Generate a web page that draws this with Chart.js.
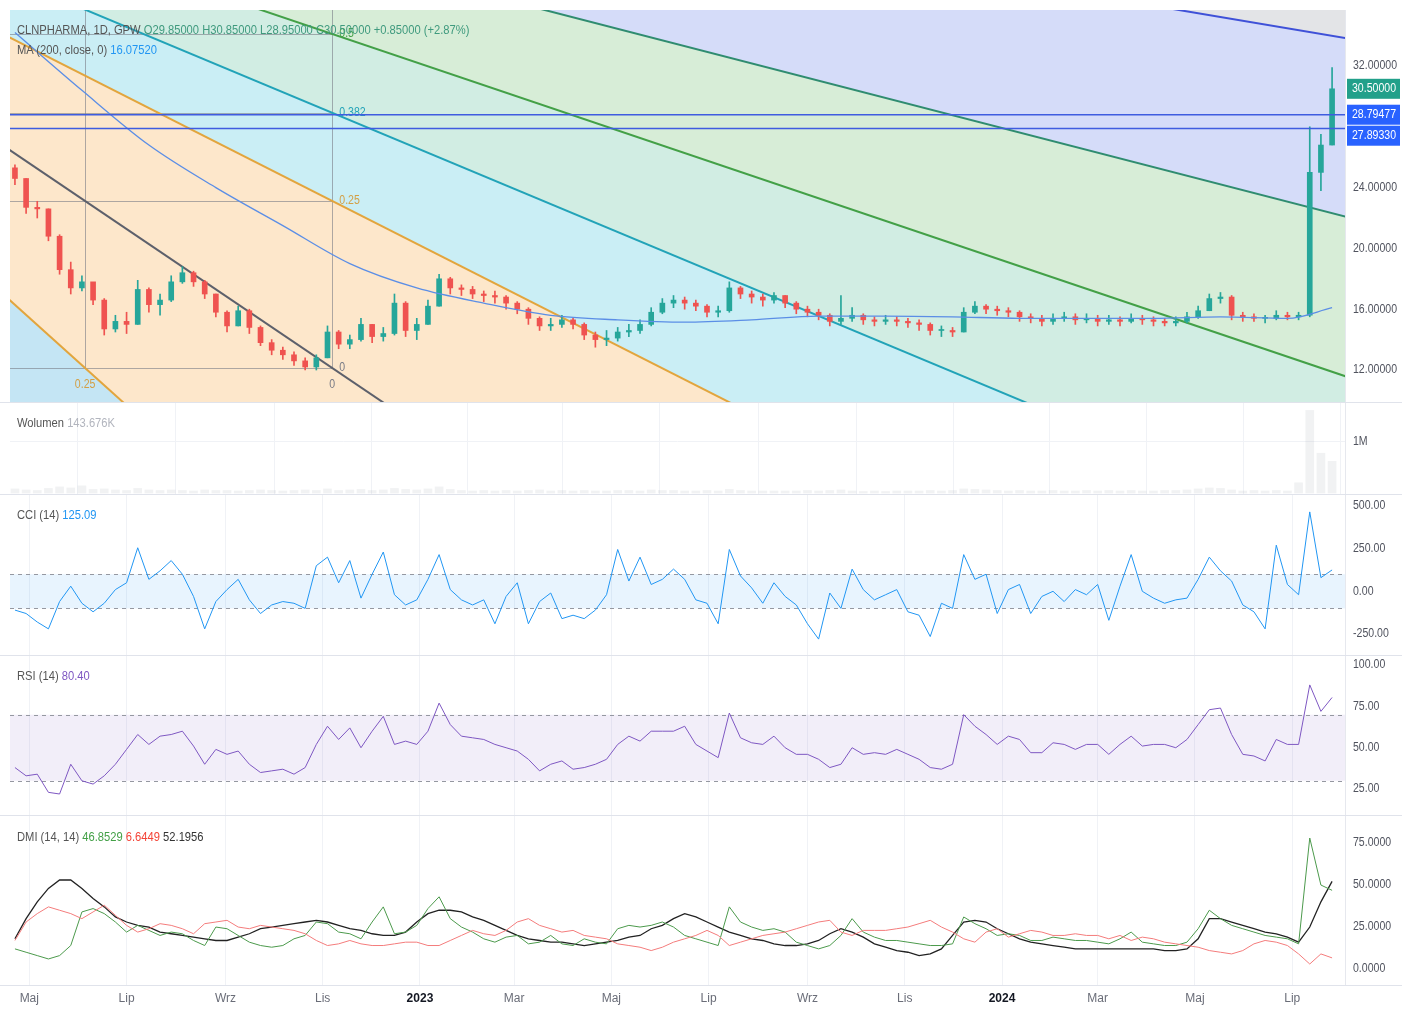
<!DOCTYPE html>
<html>
<head>
<meta charset="utf-8">
<script src="https://cdn.jsdelivr.net/npm/chart.js@4.4.1/dist/chart.umd.min.js"></script>
<style>
  body { margin: 0; background: #fff; }
  #wrap { position: relative; width: 1402px; height: 1012px; overflow: hidden; background: #fff;
          font-family: "Liberation Sans", Arial, sans-serif; }
  canvas { position: absolute; left: 0; }
  .sep { position: absolute; left: 0; width: 1402px; height: 1px; background: #e0e3eb; }
  .vsep { position: absolute; left: 1345px; top: 10px; width: 1px; height: 975px; background: #e6e8ee; }
  .legend { position: absolute; left: 17px; font-size: 13px; color: #555; white-space: nowrap;
            transform: scaleX(0.86); transform-origin: 0 0; }
</style>
</head>
<body>
<div id="wrap">
  <canvas id="main" width="1402" height="392" style="top:10px"></canvas>
  <canvas id="vol" width="1402" height="93" style="top:402px"></canvas>
  <canvas id="cci" width="1402" height="160" style="top:495px"></canvas>
  <canvas id="rsi" width="1402" height="160" style="top:655px"></canvas>
  <canvas id="dmi" width="1402" height="197" style="top:815px"></canvas>
  <div class="vsep"></div>
  <div class="sep" style="top:402px"></div>
  <div class="sep" style="top:494px"></div>
  <div class="sep" style="top:655px"></div>
  <div class="sep" style="top:815px"></div>
  <div class="sep" style="top:985px"></div>
  <div class="legend" style="top:22px">CLNPHARMA, 1D, GPW <span style="color:#3f9a7e">O29.85000 H30.85000 L28.95000 C30.50000 +0.85000 (+2.87%)</span></div>
  <div class="legend" style="top:42px">MA (200, close, 0) <span style="color:#2196f3">16.07520</span></div>
  <div class="legend" style="top:415px">Wolumen <span style="color:#b2b5be">143.676K</span></div>
  <div class="legend" style="top:507px">CCI (14) <span style="color:#2196f3">125.09</span></div>
  <div class="legend" style="top:668px">RSI (14) <span style="color:#7e57c2">80.40</span></div>
  <div class="legend" style="top:829px">DMI (14, 14) <span style="color:#43a047">46.8529</span> <span style="color:#f44336">6.6449</span> <span style="color:#333">52.1956</span></div>
</div>
<script>
// ======== Data (weekly bars) ========
const START_DATE = "2022-04-22"; // first weekly bar
const WEEK = 7;
const FIRST_OPEN = 25.3;

const CLOSE = [24.6,22.7,22.6,20.8,18.6,17.4,17.8,16.6,14.7,15.2,
  15.0,17.3,16.3,16.6,17.8,18.4,17.8,17.0,15.8,14.9,
  15.9,14.8,13.8,13.3,13.0,12.6,12.2,12.8,14.5,13.7,
  14.0,15.0,14.2,14.4,16.4,14.6,15.0,16.2,18.0,17.4,
  17.3,17.0,16.9,16.8,16.4,16.0,15.4,14.9,15.0,15.3,
  15.0,14.3,14.0,14.1,14.5,14.6,15.0,15.8,16.4,16.6,
  16.4,16.2,15.8,15.9,17.4,17.0,16.8,16.6,16.9,16.4,
  16.0,15.8,15.6,15.2,15.4,15.6,15.3,15.2,15.3,15.2,
  15.1,15.0,14.6,14.6,14.5,15.8,16.2,16.0,15.9,15.8,
  15.5,15.4,15.2,15.4,15.5,15.3,15.4,15.2,15.3,15.2,
  15.4,15.3,15.2,15.1,15.2,15.5,15.9,16.7,16.8,15.6,
  15.5,15.4,15.4,15.6,15.5,15.6,25.0,26.8,30.5];
const HIGH = [25.5,24.6,23.1,22.6,20.9,19.1,18.2,17.6,16.7,15.6,
  15.8,17.9,17.4,17.0,18.2,18.8,18.5,17.9,17.0,15.9,
  16.2,16.0,14.9,14.0,13.5,13.2,12.8,13.0,14.9,14.6,
  14.3,15.4,15.0,14.8,17.0,16.5,15.4,16.6,18.3,18.1,
  17.6,17.5,17.2,17.2,16.9,16.5,16.1,15.5,15.4,15.6,
  15.4,15.1,14.5,14.6,14.8,15.0,15.3,16.1,16.7,16.9,
  16.8,16.6,16.3,16.2,17.8,17.5,17.2,17.0,17.1,16.9,
  16.5,16.2,16.0,15.7,16.9,16.1,15.7,15.5,15.6,15.5,
  15.4,15.3,15.1,14.9,14.8,16.1,16.5,16.3,16.2,16.1,
  15.9,15.7,15.6,15.7,15.8,15.7,15.7,15.6,15.6,15.5,
  15.7,15.6,15.5,15.4,15.5,15.8,16.2,17.0,17.1,16.9,
  15.8,15.7,15.6,15.9,15.8,15.8,28.0,27.5,31.9];
const LOW = [24.2,22.3,22.0,20.5,18.3,17.0,17.2,16.3,14.3,14.5,
  14.4,15.0,15.8,15.6,16.5,17.7,17.5,16.7,15.5,14.5,
  14.9,14.4,13.6,13.0,12.7,12.3,12.0,12.0,12.8,13.4,
  13.4,13.9,13.8,13.9,14.3,14.2,14.0,15.0,16.2,17.0,
  16.9,16.7,16.5,16.4,16.0,15.7,15.0,14.6,14.6,14.8,
  14.7,14.0,13.5,13.6,13.9,14.2,14.4,14.9,15.7,16.1,
  16.0,15.9,15.5,15.5,15.8,16.7,16.4,16.2,16.4,16.1,
  15.7,15.5,15.3,14.9,15.0,15.2,15.0,14.9,15.0,14.9,
  14.8,14.6,14.3,14.2,14.2,14.5,15.7,15.7,15.6,15.5,
  15.2,15.1,14.9,15.0,15.2,15.0,15.1,14.9,15.0,14.9,
  15.1,15.0,14.9,14.9,14.9,15.1,15.4,15.9,16.4,15.3,
  15.2,15.2,15.1,15.3,15.3,15.3,15.5,23.8,26.8];

// MA200, read every 6th bar
const MA_IDX = [0,6,12,18,24,30,36,42,48,54,60,66,72,78,84,90,96,102,108,114,118];
const MA200 = [34.2,30.4,26.8,24.0,21.5,19.0,17.4,16.4,15.6,15.3,15.15,15.3,15.55,15.55,15.5,15.4,15.4,15.4,15.5,15.4,16.1];

// volume in millions
const VOLUME = [0.08,0.06,0.05,0.09,0.12,0.1,0.14,0.07,0.08,0.06,
  0.05,0.09,0.06,0.05,0.06,0.05,0.04,0.06,0.05,0.05,
  0.04,0.05,0.06,0.05,0.04,0.05,0.06,0.05,0.08,0.05,
  0.06,0.07,0.05,0.06,0.09,0.07,0.06,0.08,0.12,0.07,
  0.05,0.04,0.05,0.04,0.05,0.04,0.05,0.06,0.04,0.05,
  0.04,0.05,0.04,0.04,0.05,0.05,0.04,0.06,0.05,0.05,
  0.04,0.04,0.05,0.04,0.07,0.05,0.04,0.04,0.04,0.04,
  0.04,0.05,0.04,0.05,0.06,0.04,0.03,0.04,0.03,0.04,
  0.04,0.04,0.05,0.04,0.05,0.08,0.07,0.06,0.05,0.04,
  0.05,0.04,0.04,0.05,0.04,0.04,0.05,0.04,0.05,0.04,
  0.05,0.04,0.04,0.05,0.05,0.06,0.08,0.1,0.09,0.06,
  0.04,0.05,0.04,0.05,0.04,0.2,1.62,0.78,0.62];

const CCI = [-110,-130,-180,-220,-60,30,-70,-120,-70,10,
  50,255,70,120,180,100,-30,-220,-60,10,
  70,-50,-130,-80,-60,-70,-100,150,200,50,
  180,-40,100,230,-20,-80,-50,70,215,10,
  -50,-80,-50,-190,-30,50,-190,-60,-10,-160,
  -140,-160,-110,-20,245,60,200,40,70,130,
  70,-50,-70,-190,245,90,20,-70,50,-30,
  -80,-190,-280,-10,-100,130,10,-50,-20,10,
  -120,-140,-265,-70,-100,215,70,100,-130,10,
  40,-130,-30,0,-60,10,-20,40,-170,30,
  215,0,-40,-70,-50,-40,70,200,120,60,
  -80,-120,-220,270,40,-20,465,80,125.09];

const RSI = [38,33,34,23,22,40,30,28,33,40,
  49,58,52,57,58,60,51,40,49,46,
  48,40,35,36,37,34,38,52,63,55,
  62,50,60,69,52,54,52,60,77,64,
  57,56,55,52,50,48,43,36,40,42,
  37,38,40,43,52,57,54,60,60,60,
  63,52,48,44,71,56,53,52,57,50,
  46,46,43,38,40,50,46,47,46,49,
  46,43,38,37,40,70,63,58,52,57,
  55,47,47,53,52,49,52,52,46,52,
  57,51,52,52,50,55,64,73,74,58,
  46,45,42,55,52,52,88,72,80.4];

const DI_PLUS = [12,10,8,6,8,14,34,36,33,28,
  22,26,23,20,22,21,17,14,25,24,
  20,16,14,13,14,18,20,28,27,22,
  21,18,28,37,21,22,26,36,43,30,
  25,22,18,16,19,20,15,16,20,15,
  14,18,16,15,24,26,25,26,28,25,
  20,18,16,14,37,28,25,23,24,22,
  16,14,12,14,20,30,22,19,17,17,
  16,15,14,14,15,31,27,24,20,21,
  20,17,17,19,18,17,17,16,15,18,
  22,16,15,14,14,16,24,35,30,26,
  24,22,20,19,18,15,78,50,46.85];

const DI_MINUS = [17,28,33,37,35,33,30,34,38,32,
  26,22,24,27,26,24,21,27,28,29,
  25,24,26,25,24,23,21,17,14,15,
  17,15,14,14,15,16,16,14,14,17,
  20,23,21,20,23,28,30,26,24,22,
  23,20,19,18,15,14,13,11,13,16,
  18,20,23,20,14,16,18,20,21,22,
  24,26,28,29,22,20,23,23,23,24,
  25,27,29,25,22,18,16,22,24,19,
  21,23,22,20,20,21,20,20,18,20,
  17,19,18,16,15,14,13,11,10,9,
  11,15,17,16,14,9,3,9,6.64];

const ADX = [18,30,40,48,53,53,48,42,37,31,
  28,26,25,22,21,20,19,18,17,17,
  19,21,24,25,26,27,28,29,28,26,
  24,23,21,20,20,22,28,33,35,35,
  34,31,29,26,23,20,18,17,16,16,
  15,14,15,16,17,19,20,24,26,30,
  33,31,28,25,22,20,18,17,15,14,
  14,15,17,21,24,22,19,15,13,11,
  10,8,9,12,20,28,29,28,24,21,
  18,16,15,14,13,12,12,12,12,12,
  12,12,12,11,11,12,18,30,30,28,
  26,24,22,21,19,16,25,40,52.2];

const TICK_DATES = ["2022-05-01","2022-07-01","2022-09-01","2022-11-01","2023-01-01","2023-03-01",
  "2023-05-01","2023-07-01","2023-09-01","2023-11-01","2024-01-01","2024-03-01","2024-05-01","2024-07-01"];
const TICK_LABELS = ["Maj","Lip","Wrz","Lis","2023","Mar","Maj","Lip","Wrz","Lis","2024","Mar","Maj","Lip"];

const PRICE_TICKS = [12, 16, 20, 24, 32];
const VOL_TICKS = [1];
const CCI_TICKS = [-250, 0, 250, 500];
const RSI_TICKS = [25, 50, 75, 100];
const DMI_TICKS = [0, 25, 50, 75];

const HLINES = [28.79477, 27.8933];
const LAST_PRICE = 30.5;

// fib speed fan drawing (two anchor points) and its levels
const FAN_FROM = { date: "2021-02-25", price: 56.08 };
const FAN_TO = { date: "2022-11-07", price: 12.13 };
const FAN_RAYS = [["x", 0.382], ["x", 0.25], ["y", 0], ["y", 0.25], ["y", 0.382], ["y", 0.5], ["y", 0.618], ["y", 0.75], ["y", 1]];
const FAN_GRID_X = [0, 0.25];
const FAN_GRID_Y = [0, 0.25, 0.382, 0.5];

// ======== Styles ========
const FAN_FILLS = ["#c4e5f4", "#fde7cb", "#fde7cb", "#caeef5", "#d1ede3", "#d7edd7", "#d5dcf9", "#e3e4e7"];
const FAN_LINES = ["#1fa9c9", "#e2a53d", "#5d606b", "#e2a53d", "#22a3b8", "#43a047", "#2f8c70", "#3f51d8", "#787b86"];
const LEVEL_COLORS = { "0": "#787b86", "0.25": "#d39f45", "0.382": "#22a3b8", "0.5": "#43a047" };
const UP = "#26a69a", DOWN = "#ef5350";
const AXIS_FONT = '12px "Liberation Sans", Arial, sans-serif';
const TEXT_SQUEEZE = 0.88;
const X_VIEW = { min: -257.1, max: 580.1 };

// ======== Helpers ========
function dayOf(s) {
  return (Date.parse(s + "T00:00:00Z") - Date.parse("2023-01-01T00:00:00Z")) / 864e5;
}
const START = dayOf(START_DATE);
const XS = CLOSE.map((_, i) => START + WEEK * i);
const OPEN = CLOSE.map((c, i) => (i ? CLOSE[i - 1] : FIRST_OPEN));
const candleColor = CLOSE.map((c, i) => (c >= OPEN[i] ? UP : DOWN));
const TICK_DAYS = TICK_DATES.map(dayOf);

// condensed canvas text (the chart font is a narrow one)
function squeezedText(ctx, text, x, y, align) {
  ctx.save();
  ctx.translate(x, y);
  ctx.scale(TEXT_SQUEEZE, 1);
  ctx.textAlign = align || "left";
  ctx.fillText(text, 0, 0);
  ctx.restore();
}

function xAxis(showLabels) {
  return {
    type: "linear", min: X_VIEW.min, max: X_VIEW.max, offset: false,
    display: true,
    afterBuildTicks: (s) => { s.ticks = TICK_DAYS.map((v) => ({ value: v })); },
    afterFit: (s) => { s.height = showLabels ? 27 : 0; },
    grid: { color: "#f0f2f6", drawTicks: false },
    border: { display: false },
    ticks: {
      display: showLabels, padding: 6, maxRotation: 0, autoSkip: false,
      callback: (v, i) => TICK_LABELS[i],
      color: (c) => (/^\d{4}$/.test(TICK_LABELS[c.index]) ? "#131722" : "#6a6d78"),
      font: (c) => ({ family: '"Liberation Sans", Arial, sans-serif', size: 12,
                      weight: /^\d{4}$/.test(TICK_LABELS[c.index]) ? "bold" : "normal" }),
    },
  };
}

function rightAxisPlugin(ticks, fmt) {
  return {
    id: "rightAxis",
    afterDraw(chart) {
      const { ctx, scales: { y } } = chart;
      ctx.save();
      ctx.font = AXIS_FONT;
      ctx.fillStyle = "#50535e";
      ctx.textBaseline = "middle";
      ticks.forEach((t) => squeezedText(ctx, fmt(t), 1353, y.getPixelForValue(t)));
      ctx.restore();
    },
  };
}

function bandPlugin(hi, lo, fill) {
  return {
    id: "band",
    beforeDatasetsDraw(chart) {
      const { ctx, chartArea: a, scales: { y } } = chart;
      const yh = y.getPixelForValue(hi), yl = y.getPixelForValue(lo);
      ctx.save();
      ctx.fillStyle = fill;
      ctx.fillRect(a.left, yh, a.right - a.left, yl - yh);
      ctx.strokeStyle = "#9598a1";
      ctx.lineWidth = 1;
      ctx.setLineDash([4, 4]);
      [yh, yl].forEach((py) => {
        ctx.beginPath();
        ctx.moveTo(a.left, Math.round(py) + 0.5);
        ctx.lineTo(a.right, Math.round(py) + 0.5);
        ctx.stroke();
      });
      ctx.restore();
    },
  };
}

// ======== Fib fan + horizontal lines + price tags ========
const fanPlugin = {
  id: "fan",
  beforeDatasetsDraw(chart) {
    const { ctx, chartArea: a, scales: { x, y } } = chart;
    const ox = x.getPixelForValue(dayOf(FAN_FROM.date)), oy = y.getPixelForValue(FAN_FROM.price);
    const ex = x.getPixelForValue(dayOf(FAN_TO.date)), ey = y.getPixelForValue(FAN_TO.price);
    const far = FAN_RAYS.map(([k, l]) => {
      const px = k === "x" ? ex + l * (ox - ex) : ex;
      const py = k === "x" ? ey : ey + l * (oy - ey);
      return [ox + (px - ox) * 12, oy + (py - oy) * 12];
    });
    ctx.save();
    ctx.beginPath();
    ctx.rect(a.left, a.top, a.right - a.left, a.bottom - a.top);
    ctx.clip();
    for (let j = 0; j < far.length - 1; j++) {
      ctx.fillStyle = FAN_FILLS[j];
      ctx.beginPath();
      ctx.moveTo(ox, oy);
      ctx.lineTo(far[j][0], far[j][1]);
      ctx.lineTo(far[j + 1][0], far[j + 1][1]);
      ctx.closePath();
      ctx.fill();
    }
    // grid of the fan box
    ctx.strokeStyle = "rgba(120,123,134,0.6)";
    ctx.lineWidth = 1;
    FAN_GRID_X.forEach((l) => {
      const px = Math.round(ex + l * (ox - ex)) + 0.5;
      ctx.beginPath(); ctx.moveTo(px, oy); ctx.lineTo(px, ey); ctx.stroke();
    });
    FAN_GRID_Y.forEach((l) => {
      const py = Math.round(ey + l * (oy - ey)) + 0.5;
      ctx.beginPath(); ctx.moveTo(ox, py); ctx.lineTo(ex, py); ctx.stroke();
    });
    // rays
    ctx.lineWidth = 2;
    far.forEach((p, j) => {
      ctx.strokeStyle = FAN_LINES[j];
      ctx.beginPath(); ctx.moveTo(ox, oy); ctx.lineTo(p[0], p[1]); ctx.stroke();
    });
    // level labels
    ctx.font = AXIS_FONT;
    ctx.textBaseline = "middle";
    FAN_GRID_Y.forEach((l) => {
      ctx.fillStyle = LEVEL_COLORS[String(l)];
      squeezedText(ctx, String(l), ex + 7, ey + l * (oy - ey));
    });
    FAN_GRID_X.forEach((l) => {
      ctx.fillStyle = LEVEL_COLORS[String(l)];
      squeezedText(ctx, String(l), ex + l * (ox - ex), ey + 17, "center");
    });
    ctx.restore();
  },
  afterDatasetsDraw(chart) {
    const { ctx, chartArea: a, scales: { y } } = chart;
    ctx.save();
    ctx.strokeStyle = "#3f5ce0";
    ctx.lineWidth = 1.5;
    HLINES.forEach((v) => {
      const py = y.getPixelForValue(v);
      ctx.beginPath(); ctx.moveTo(a.left, py); ctx.lineTo(a.right, py); ctx.stroke();
    });
    ctx.restore();
  },
  afterDraw(chart) {
    const { ctx, scales: { y } } = chart;
    const tags = [[LAST_PRICE, "#22a08a"], ...HLINES.map((v) => [v, "#2962ff"])];
    let prev = -100;
    ctx.save();
    ctx.font = AXIS_FONT;
    ctx.textBaseline = "middle";
    tags.forEach(([v, col]) => {
      let py = y.getPixelForValue(v);
      if (py < prev + 21) py = prev + 21;
      prev = py;
      ctx.fillStyle = col;
      ctx.fillRect(1347, py - 10, 53, 20);
      ctx.fillStyle = "#fff";
      squeezedText(ctx, v.toFixed(5), 1352, py);
    });
    ctx.restore();
  },
};

const baseOptions = (yMin, yMax, showX, xGrid) => ({
  responsive: false,
  animation: false,
  layout: { padding: { left: 10, right: 57, top: 0, bottom: 0 } },
  plugins: { legend: { display: false }, tooltip: { enabled: false } },
  scales: {
    x: xGrid ? xAxis(showX) : { type: "linear", min: X_VIEW.min, max: X_VIEW.max, offset: false, display: false },
    y: { type: "linear", min: yMin, max: yMax, display: false },
  },
});

// ======== Price pane ========
new Chart(document.getElementById("main").getContext("2d"), {
  type: "bar",
  data: {
    datasets: [
      {
        data: XS.map((x, i) => ({ x, y: [LOW[i], HIGH[i]] })),
        backgroundColor: candleColor, barThickness: 1, grouped: false, order: 3,
      },
      {
        data: XS.map((x, i) => ({ x, y: [OPEN[i], CLOSE[i]] })),
        backgroundColor: candleColor, barThickness: 5, minBarLength: 1, grouped: false, order: 2,
      },
      {
        type: "line",
        data: MA_IDX.map((k, j) => ({ x: XS[k], y: MA200[j] })),
        borderColor: "#5b8ee6", borderWidth: 1.3, pointRadius: 0,
        cubicInterpolationMode: "monotone", order: 1,
      },
    ],
  },
  options: baseOptions(9.895, 35.684, false, false),
  plugins: [fanPlugin, rightAxisPlugin(PRICE_TICKS, (t) => t.toFixed(5))],
});

// ======== Volume pane ========
new Chart(document.getElementById("vol").getContext("2d"), {
  type: "bar",
  data: {
    datasets: [{
      data: XS.map((x, i) => ({ x, y: VOLUME[i] })),
      backgroundColor: "rgba(150,155,165,0.13)", barThickness: 8,
    }],
  },
  options: (() => {
    const o = baseOptions(-0.039, 1.784, false, true);
    o.scales.y = { type: "linear", min: -0.039, max: 1.784, display: true,
      afterBuildTicks: (s) => { s.ticks = VOL_TICKS.map((v) => ({ value: v })); },
      afterFit: (s) => { s.width = 0; },
      ticks: { display: false }, grid: { color: "#f0f2f6", drawTicks: false }, border: { display: false } };
    return o;
  })(),
  plugins: [rightAxisPlugin(VOL_TICKS, (t) => t + "M")],
});

// ======== Oscillator panes ========
function linePane(id, yMin, yMax, sets, ticks, fmt, band, showX) {
  return new Chart(document.getElementById(id).getContext("2d"), {
    type: "line",
    data: {
      datasets: sets.map(([vals, color, w]) => ({
        data: XS.map((x, i) => ({ x, y: vals[i] })),
        borderColor: color, borderWidth: w, pointRadius: 0, tension: 0,
      })),
    },
    options: baseOptions(yMin, yMax, showX, true),
    plugins: [rightAxisPlugin(ticks, fmt)].concat(band ? [bandPlugin(...band)] : []),
  });
}

linePane("cci", -373, 564, [[CCI, "#2196f3", 1]], CCI_TICKS, (t) => t.toFixed(2),
  [100, -100, "rgba(33,150,243,0.1)"], false);
linePane("rsi", 9.3, 106.1, [[RSI, "#7e57c2", 1]], RSI_TICKS, (t) => t.toFixed(2),
  [70, 30, "rgba(126,87,194,0.1)"], false);
linePane("dmi", -9.5, 91.7,
  [[DI_MINUS, "#f47c7c", 1], [DI_PLUS, "#4c9a4c", 1], [ADX, "#222", 1.3]],
  DMI_TICKS, (t) => t.toFixed(4), null, true);
</script>
</body>
</html>
